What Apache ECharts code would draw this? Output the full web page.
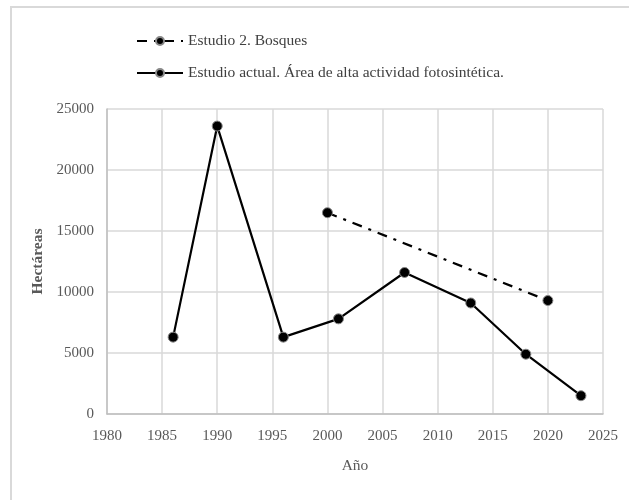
<!DOCTYPE html>
<html><head><meta charset="utf-8">
<script src="https://cdn.jsdelivr.net/npm/echarts@6/dist/echarts.min.js"></script>
<style>html,body{margin:0;padding:0;background:#fff}#c{width:629px;height:500px}</style>
</head><body><div id="c"></div>
<script>
const xTicks = [1980, 1985, 1990, 1995, 2000, 2005, 2010, 2015, 2020, 2025];
const bosquesYears = [2000, 2020];
const bosquesValues = [16500, 9300];
const actualYears = [1986, 1990, 1996, 2001, 2007, 2013, 2018, 2023];
const actualValues = [6300, 23600, 6300, 7800, 11600, 9100, 4900, 1500];
const seriesNames = ['Estudio 2. Bosques', 'Estudio actual. Área de alta actividad fotosintética.'];

const font = 'Liberation Serif';
const chart = echarts.init(document.getElementById('c'));
chart.setOption({
  backgroundColor: '#fff',
  animation: false,
  graphic: [{type:'rect', shape:{x:11,y:7,width:640,height:520}, style:{fill:'none', stroke:'#d9d9d9', lineWidth:2}}],
  legend: {
    orient: 'vertical', left: 131, top: 28, itemGap: 16, itemWidth: 46, itemHeight: 10,
    textStyle: {fontFamily: font, fontSize: 15.5, color: '#404040'},
    data: seriesNames
  },
  grid: {left: 107, right: 26, top: 109, bottom: 86},
  xAxis: {
    type: 'value', min: xTicks[0], max: xTicks[xTicks.length-1], interval: 5,
    name: 'Año', nameLocation: 'middle', nameGap: 44,
    nameTextStyle: {fontFamily: font, fontSize: 15.5, color: '#595959'},
    axisLine: {show: true, lineStyle: {color: '#bfbfbf', width: 1.5}},
    axisTick: {show: false},
    axisLabel: {fontFamily: font, fontSize: 15, color: '#595959', margin: 15, formatter: v => String(v)},
    splitLine: {show: true, lineStyle: {color: '#d9d9d9', width: 1.5}}
  },
  yAxis: {
    type: 'value', min: 0, max: 25000, interval: 5000,
    name: 'Hectáreas', nameLocation: 'middle', nameGap: 54, nameRotate: 90,
    nameTextStyle: {fontFamily: font, fontSize: 15.5, color: '#595959', fontWeight: 'bold'},
    axisLine: {show: true, lineStyle: {color: '#bfbfbf', width: 1.5}},
    axisTick: {show: false},
    axisLabel: {fontFamily: font, fontSize: 15, color: '#595959', margin: 13, formatter: v => String(v)},
    splitLine: {show: true, lineStyle: {color: '#d9d9d9', width: 1.5}}
  },
  series: [
    {
      name: seriesNames[0], type: 'line',
      data: bosquesYears.map((y,i)=>[y, bosquesValues[i]]),
      symbol: 'circle', symbolSize: 10,
      itemStyle: {color: '#000', borderColor: '#888', borderWidth: 1},
      lineStyle: {color: '#000', width: 2.2, type: [10, 7, 3, 7]}
    },
    {
      name: seriesNames[1], type: 'line',
      data: actualYears.map((y,i)=>[y, actualValues[i]]),
      symbol: 'circle', symbolSize: 10,
      itemStyle: {color: '#000', borderColor: '#888', borderWidth: 1},
      lineStyle: {color: '#000', width: 2.2}
    }
  ]
});
</script></body></html>
